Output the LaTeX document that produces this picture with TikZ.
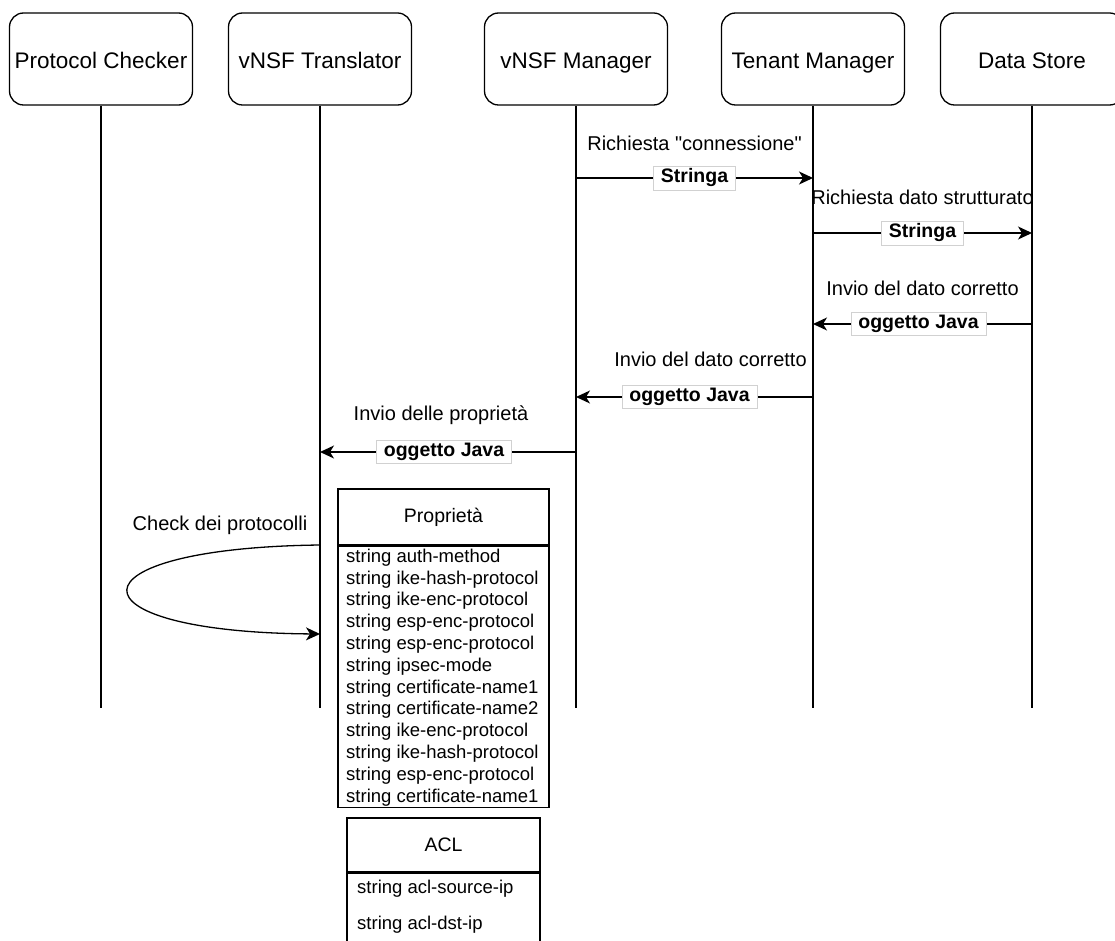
\documentclass[tikz,border=0pt]{standalone}
\usepackage{fontspec}
\setmainfont{Liberation Sans}
\usetikzlibrary{arrows.meta}
% straight double quote, set as a glyph so that no input mapping curls it
\newcommand\sdq{\XeTeXglyph\XeTeXglyphindex "quotedbl"\relax}

\begin{document}
\begin{tikzpicture}[x=1pt,y=-1pt,
  actor/.style={draw, rounded corners=14pt, line width=1.3pt, minimum width=183pt,
    minimum height=92pt, inner sep=0pt, text height=20pt, text depth=0pt,
    font=\fontsize{22.5}{26}\selectfont},
  life/.style={line width=1.3pt},
  msg/.style={line width=1.3pt, -{Stealth[length=14pt,width=13pt,inset=4pt]}},
  tag/.style={fill=white, draw=black!18, line width=0.6pt, inner xsep=7.5pt, inner ysep=3pt,
    font=\fontsize{19.5}{22}\selectfont\bfseries},
  note/.style={font=\fontsize{20}{23}\selectfont, yshift=36pt},
  classbox/.style={draw, line width=1.3pt, inner sep=0pt},
  row/.style={anchor=west, inner sep=0pt, font=\fontsize{18.5}{21}\selectfont}
]
\useasboundingbox (0,0) rectangle (1115,941);

% participants
\node[actor] (pc) at (101,59)  {Protocol Checker};
\node[actor] (vt) at (320,59)  {vNSF Translator};
\node[actor] (vm) at (576,59)  {vNSF Manager};
\node[actor] (tm) at (813,59)  {Tenant Manager};
\node[actor] (ds) at (1032,59) {Data Store};

% lifelines
\foreach \p in {pc,vt,vm,tm,ds}
  \draw[life] (\p.south) -- (\p.south |- 0,708);

% messages
\draw[msg] (vm.south |- 0,178) -- (tm.south |- 0,178)
  node[midway, tag] (s1) {Stringa}
  node[midway, note, yshift=-1pt] (n1) {Richiesta \sdq connessione\sdq};
\draw[msg] (tm.south |- 0,233) -- (ds.south |- 0,233)
  node[midway, tag] (s2) {Stringa}
  node[midway, note] (n2) {Richiesta dato strutturato};
\draw[msg] (ds.south |- 0,324) -- (tm.south |- 0,324)
  node[midway, tag, xshift=-4pt] (s3) {oggetto Java}
  node[midway, note] (n3) {Invio del dato corretto};
\draw[msg] (tm.south |- 0,397) -- (vm.south |- 0,397)
  node[midway, tag, xshift=-5pt] (s4) {oggetto Java}
  node[midway, note, yshift=2pt, xshift=16pt] (n4) {Invio del dato corretto};
\draw[msg] (vm.south |- 0,452) -- (vt.south |- 0,452)
  node[midway, tag, xshift=-4pt] (s5) {oggetto Java}
  node[midway, note, yshift=1pt, xshift=-7pt] (n5) {Invio delle proprietà};

% self call on the translator
\coordinate (loopout) at (vt.south |- 0,545);
\coordinate (loopin)  at (vt.south |- 0,634);
\draw[msg] (loopout) .. controls (64,548) and (64,632) .. (loopin);
\node[font=\fontsize{20}{23}\selectfont] (n6) at (220,525) {Check dei protocolli};

% class box: Proprieta
\node[classbox, minimum width=211pt, minimum height=56pt] (ph) at (443.5,517)
  {\fontsize{19.5}{22}\selectfont Proprietà};
\node[classbox, minimum width=211pt, minimum height=261pt, anchor=north] (pb) at (ph.south) {};
\foreach \t [count=\i from 0] in {string auth-method, string ike-hash-protocol,
    string ike-enc-protocol, string esp-enc-protocol, string esp-enc-protocol,
    string ipsec-mode, string certificate-name1, string certificate-name2,
    string ike-enc-protocol, string ike-hash-protocol, string esp-enc-protocol,
    string certificate-name1}
  \node[row] (p\i) at (346,557.5+21.8*\i) {\t};

% class box: ACL (continues below the page edge)
\node[classbox, minimum width=193pt, minimum height=54pt] (ah) at (443.5,845)
  {\fontsize{19.5}{22}\selectfont ACL};
\node[classbox, minimum width=193pt, minimum height=120pt, anchor=north] (ab) at (ah.south) {};
\node[row] (a0) at (357,889) {string acl-source-ip};
\node[row] (a1) at (357,925) {string acl-dst-ip};
\end{tikzpicture}
\end{document}
